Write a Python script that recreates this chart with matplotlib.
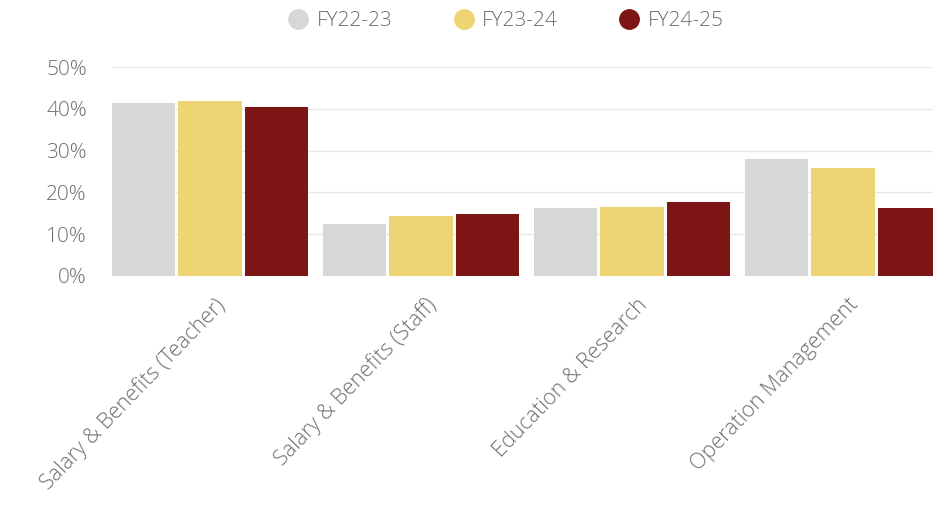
import matplotlib
matplotlib.use('Agg')
import matplotlib.pyplot as plt
from matplotlib.lines import Line2D
import numpy as np

plt.rcParams['font.family'] = ['Open Sans', 'DejaVu Sans']
plt.rcParams['font.weight'] = 'light'

categories = ['Salary & Benefits (Teacher)', 'Salary & Benefits (Staff)',
              'Education & Research', 'Operation Management']
series = ['FY22-23', 'FY23-24', 'FY24-25']
fy2223 = [41.5, 12.5, 16.3, 28.0]
fy2324 = [42.0, 14.3, 16.5, 25.9]
fy2425 = [40.5, 14.9, 17.8, 16.3]
colors = ['#d7d7d7', '#eed473', '#7e1515']

fig = plt.figure(figsize=(9.33, 5.05), dpi=100)
ax = fig.add_axes([0.12, 0.4535, 0.88, 0.4135])

x = np.arange(len(categories))
w = 0.3
gap = 0.015
for k, vals in enumerate([fy2223, fy2324, fy2425]):
    ax.bar(x + (k - 1) * (w + gap), vals, width=w, color=colors[k], zorder=2)

ax.set_xlim(-0.464, 3.427)
ax.set_ylim(0, 50)
ax.set_yticks([0, 10, 20, 30, 40, 50])
ax.set_yticklabels(['0%', '10%', '20%', '30%', '40%', '50%'])
ax.grid(axis='y', color='#e8e8e8', linewidth=1, zorder=0)
for s in ax.spines.values():
    s.set_visible(False)
ax.tick_params(axis='both', length=0, colors='#6e6e6e', labelsize=15)
ax.tick_params(axis='y', pad=18)

ax.set_xticks(x)
ax.set_xticklabels(categories, rotation=46, ha='right', rotation_mode='anchor',
                   va='center', color='#6e6e6e', fontsize=15.5)
for lbl in ax.get_xticklabels():
    lbl.set_transform(lbl.get_transform() + matplotlib.transforms.ScaledTranslation(0.12, -0.21, fig.dpi_scale_trans))

handles = [Line2D([0], [0], marker='o', color='none', markerfacecolor=c,
                  markeredgecolor=c, markersize=14) for c in colors]
fig.legend(handles, series, loc='upper center', bbox_to_anchor=(0.541, 1.015),
           ncol=3, frameon=False, fontsize=15, labelcolor='#6e6e6e',
           handletextpad=0.3, columnspacing=2.8, handlelength=1.2)

fig.savefig('out.png', dpi=100)
